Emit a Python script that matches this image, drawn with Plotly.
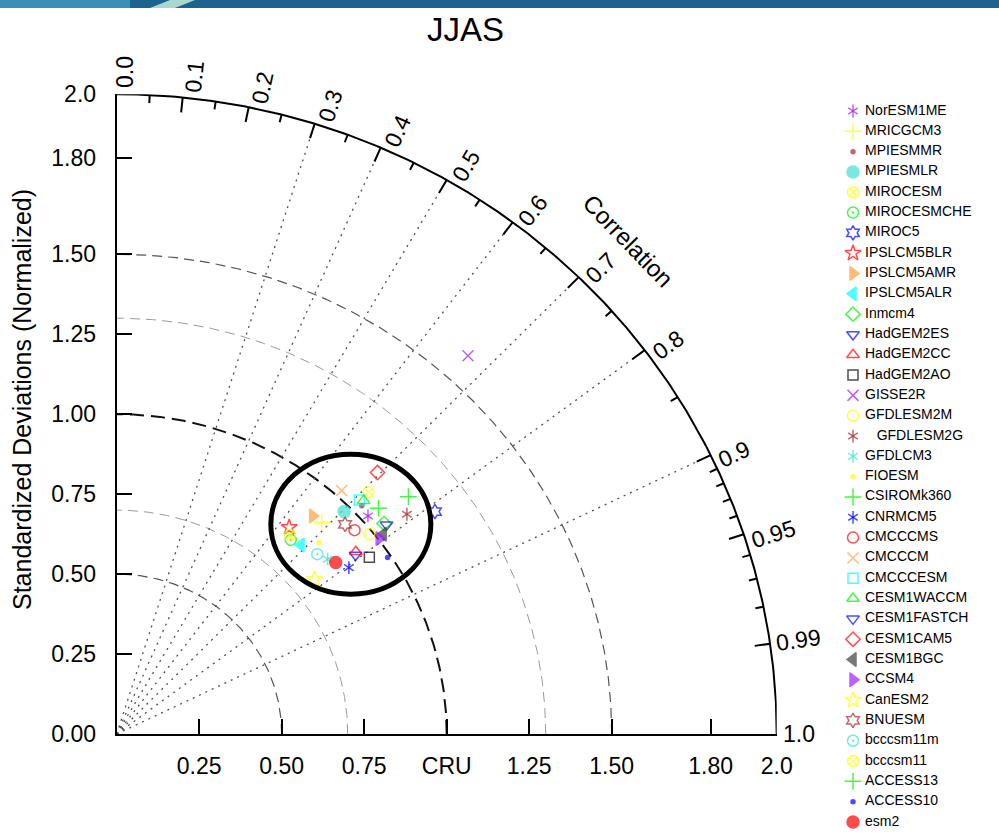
import numpy as np
import plotly.graph_objects as go

# ---------------- data ----------------
models = ["NorESM1ME", "MRICGCM3", "MPIESMMR", "MPIESMLR", "MIROCESM", "MIROCESMCHE",
          "MIROC5", "IPSLCM5BLR", "IPSLCM5AMR", "IPSLCM5ALR", "Inmcm4", "HadGEM2ES",
          "HadGEM2CC", "HadGEM2AO", "GISSE2R", "GFDLESM2M", "\u00a0\u00a0\u00a0GFDLESM2G", "GFDLCM3",
          "FIOESM", "CSIROMk360", "CNRMCM5", "CMCCCMS", "CMCCCM", "CMCCCESM",
          "CESM1WACCM", "CESM1FASTCH", "CESM1CAM5", "CESM1BGC", "CCSM4", "CanESM2",
          "BNUESM", "bcccsm11m", "bcccsm11", "ACCESS13", "ACCESS10", "esm2"]

std_dev = [1.022, 0.908, 1.030, 0.979, 1.074, 0.804,
           1.189, 0.831, 0.904, 0.813, 1.044, 0.915,
           0.922, 0.944, 1.591, 0.988, 1.116, 0.841,
           0.857, 1.154, 0.875, 0.962, 1.022, 1.037,
           1.045, 1.047, 1.137, 1.021, 1.003, 0.770,
           0.953, 0.828, 0.814, 1.062, 0.989, 0.853]

correlation = [0.745, 0.684, 0.721, 0.704, 0.710, 0.656,
               0.811, 0.629, 0.657, 0.687, 0.776, 0.791,
               0.786, 0.811, 0.669, 0.775, 0.788, 0.760,
               0.716, 0.766, 0.804, 0.749, 0.667, 0.709,
               0.716, 0.781, 0.695, 0.791, 0.793, 0.778,
               0.726, 0.734, 0.645, 0.747, 0.830, 0.778]

x_tick_vals = [0.25, 0.5, 0.75, 1.0, 1.25, 1.5, 1.8, 2.0]
x_tick_text = ["0.25", "0.50", "0.75", "CRU", "1.25", "1.50", "1.80", "2.0"]
y_tick_vals = [0.0, 0.25, 0.5, 0.75, 1.0, 1.25, 1.5, 1.8, 2.0]
y_tick_text = ["0.00", "0.25", "0.50", "0.75", "1.00", "1.25", "1.50", "1.80", "2.0"]
corr_label_vals = [0.0, 0.1, 0.2, 0.3, 0.4, 0.5, 0.6, 0.7, 0.8, 0.9, 0.95, 0.99, 1.0]
corr_label_text = ["0.0", "0.1", "0.2", "0.3", "0.4", "0.5", "0.6", "0.7", "0.8", "0.9", "0.95", "0.99", "1.0"]
corr_minor_vals = [0.05, 0.15, 0.25, 0.35, 0.45, 0.55, 0.65, 0.75, 0.85,
                   0.91, 0.92, 0.93, 0.94, 0.96, 0.97, 0.98]
ray_vals = [0.3, 0.4, 0.5, 0.6, 0.7, 0.8, 0.9]
arc_radii = [0.5, 0.7, 1.0, 1.3, 1.5]

# ---------------- styles ----------------
PURPLE, YELLOW, BROWN, TURQ = "#a020f0", "#ffff00", "#a52a2a", "#40e0d0"
GREEN, BLUE, RED, ORANGE, CYAN = "#00ee00", "#0000ff", "#ff0000", "#ffa040", "#00ffff"
symbols = ["ast", "cross-thin-open", "circle", "circle", "circle-x-open", "circle-open-dot",
           "hexagram-open", "star-open", "triangle-right", "triangle-left", "diamond-open", "triangle-down-open",
           "triangle-up-open", "square-open", "x-thin-open", "circle-open", "ast", "ast",
           "circle", "cross-thin-open", "ast", "circle-open", "x-thin-open", "square-open",
           "triangle-up-open", "triangle-down-open", "diamond-open", "triangle-left", "triangle-right", "star-open",
           "hexagram-open", "circle-open-dot", "circle-x-open", "cross-thin-open", "circle", "circle"]
colors = [PURPLE, YELLOW, BROWN, TURQ, YELLOW, GREEN,
          BLUE, RED, ORANGE, CYAN, GREEN, BLUE,
          RED, "#000000", PURPLE, YELLOW, BROWN, TURQ,
          YELLOW, GREEN, BLUE, RED, ORANGE, CYAN,
          GREEN, BLUE, RED, "#404040", PURPLE, YELLOW,
          BROWN, TURQ, YELLOW, GREEN, BLUE, RED]
sizes = [8, 12, 4, 12, 11, 11,
         11, 12, 12, 12, 11, 11,
         11, 10, 11, 11, 8, 8,
         4, 12, 8, 11, 11, 10,
         11, 11, 11, 12, 12, 12,
         11, 11, 11, 12, 4, 12]

FONT = "Liberation Sans, Arial, Helvetica, sans-serif"

# ---------------- geometry of the plot area (pixels) ----------------
W, H = 999, 839
PX0, PX1 = 116.7, 776.7      # pixel of std 0 and 2 along x
PY0, PY1 = 734.0, 94.3       # pixel of std 0 and 2 along y
SX = (PX1 - PX0) / 2.0
SY = (PY0 - PY1) / 2.0
RMAX = 2.0

fig = go.Figure()

th = np.linspace(0, np.pi / 2, 300)
arc_style = {0.5: ("#555555", 1.2, "10px,6px"), 0.7: ("#9a9a9a", 1.0, "10px,6px"),
             1.0: ("#111111", 2.0, "14px,7px"), 1.3: ("#9a9a9a", 1.0, "10px,6px"),
             1.5: ("#555555", 1.2, "10px,6px")}
for r in arc_radii:
    col, w, dash = arc_style[r]
    fig.add_trace(go.Scatter(x=r * np.cos(th), y=r * np.sin(th), mode="lines",
                             line=dict(color=col, width=w, dash=dash),
                             hoverinfo="skip", showlegend=False, cliponaxis=False))

rx, ry = [], []
for c in ray_vals:
    s = np.sqrt(1 - c * c)
    rx += [0, RMAX * c, None]
    ry += [0, RMAX * s, None]
fig.add_trace(go.Scatter(x=rx, y=ry, mode="lines", line=dict(color="#505050", width=1.3, dash="2px,5px"),
                         hoverinfo="skip", showlegend=False, cliponaxis=False))

fig.add_trace(go.Scatter(x=RMAX * np.cos(th), y=RMAX * np.sin(th), mode="lines",
                         line=dict(color="black", width=2), hoverinfo="skip",
                         showlegend=False, cliponaxis=False))

tx, ty = [], []
for vals, ln in ((corr_label_vals[1:-1], 0.047), (corr_minor_vals, 0.025)):
    for c in vals:
        s = np.sqrt(1 - c * c)
        tx += [RMAX * c, (RMAX - ln) * c, None]
        ty += [RMAX * s, (RMAX - ln) * s, None]
fig.add_trace(go.Scatter(x=tx, y=ty, mode="lines", line=dict(color="black", width=2),
                         hoverinfo="skip", showlegend=False, cliponaxis=False))

std_a = np.array(std_dev)
cor_a = np.array(correlation)
px_ = std_a * cor_a
py_ = std_a * np.sqrt(1 - cor_a ** 2)
sym_main = ["y-up-open" if s == "ast" else s for s in symbols]
fig.add_trace(go.Scatter(x=px_, y=py_, mode="markers",
                         marker=dict(symbol=sym_main, color=colors, size=sizes,
                                     line=dict(color=colors, width=1.5)),
                         text=models, hoverinfo="text", showlegend=False, cliponaxis=False))
ast_idx = [i for i, s in enumerate(symbols) if s == "ast"]
fig.add_trace(go.Scatter(x=px_[ast_idx], y=py_[ast_idx], mode="markers",
                         marker=dict(symbol="y-down-open", color=[colors[i] for i in ast_idx],
                                     size=[sizes[i] for i in ast_idx],
                                     line=dict(color=[colors[i] for i in ast_idx], width=1.5)),
                         hoverinfo="skip", showlegend=False, cliponaxis=False))

# ---------------- legend (manual, on a full-page overlay axis) ----------------
n = len(models)
row_y = [111 + i * (822 - 111) / (n - 1) for i in range(n)]
fig.add_trace(go.Scatter(x=[853] * n, y=row_y, mode="markers", xaxis="x2", yaxis="y2",
                         marker=dict(symbol=sym_main, color=colors, size=sizes,
                                     line=dict(color=colors, width=1.5)),
                         hoverinfo="skip", showlegend=False, cliponaxis=False))
fig.add_trace(go.Scatter(x=[853] * len(ast_idx), y=[row_y[i] for i in ast_idx], mode="markers",
                         xaxis="x2", yaxis="y2",
                         marker=dict(symbol="y-down-open", color=[colors[i] for i in ast_idx],
                                     size=[sizes[i] for i in ast_idx],
                                     line=dict(color=[colors[i] for i in ast_idx], width=1.5)),
                         hoverinfo="skip", showlegend=False, cliponaxis=False))
fig.add_trace(go.Scatter(x=[865] * n, y=row_y, mode="text", xaxis="x2", yaxis="y2",
                         text=models, textposition="middle right",
                         textfont=dict(family=FONT, size=14, color="black"),
                         hoverinfo="skip", showlegend=False, cliponaxis=False))

# ---------------- annotations ----------------
ann = []
for c, lab in zip(corr_label_vals, corr_label_text):
    s = np.sqrt(1 - c * c)
    ang = np.arctan2(SY * s, SX * c)
    ux, uy = np.cos(ang), np.sin(ang)
    L = 23 * (0.556 * (len(lab) - 1) + 0.278)
    gap = 6.0
    p = 9.0 if c < 0.97 else 0.0
    d = gap + L / 2
    ann.append(dict(x=RMAX * c, y=RMAX * s, xref="x", yref="y", text=lab, showarrow=False,
                    xanchor="center", yanchor="middle", textangle=-np.degrees(ang),
                    xshift=d * ux + p * uy, yshift=d * uy - p * ux,
                    font=dict(family=FONT, size=23, color="black")))
ann.append(dict(x=628 / W, y=1 - 240 / H, xref="paper", yref="paper", text="Correlation",
                showarrow=False, textangle=46, xanchor="center", yanchor="middle",
                font=dict(family=FONT, size=24, color="black")))
ann.append(dict(x=465 / W, y=1 - 30 / H, xref="paper", yref="paper", text="JJAS",
                showarrow=False, xanchor="center", yanchor="middle",
                font=dict(family=FONT, size=33, color="black")))
ann.append(dict(x=22 / W, y=1 - 400 / H, xref="paper", yref="paper",
                text="Standardized Deviations (Normalized)", showarrow=False, textangle=-90,
                xanchor="center", yanchor="middle",
                font=dict(family=FONT, size=25, color="black")))

shapes = [
    dict(type="circle", xref="x", yref="y", x0=0.467, x1=0.952, y0=0.437, y1=0.875,
         line=dict(color="black", width=5), layer="above"),
    dict(type="rect", xref="paper", yref="paper", x0=0, x1=1, y0=1 - 8 / H, y1=1,
         fillcolor="#1d6390", line=dict(width=0), layer="above"),
    dict(type="rect", xref="paper", yref="paper", x0=0, x1=130 / W, y0=1 - 8 / H, y1=1,
         fillcolor="#3a8fb6", line=dict(width=0), layer="above"),
    dict(type="path", xref="paper", yref="paper",
         path=f"M {150/W},{1-8/H} L {175/W},{1-8/H} L {195/W},1 L {170/W},1 Z",
         fillcolor="#a8d8d0", line=dict(width=0), layer="above"),
]

axis_common = dict(range=[0, 2], showgrid=False, zeroline=False, showline=True,
                   linecolor="black", linewidth=2, ticks="inside", ticklen=15, tickwidth=2,
                   tickcolor="black", tickfont=dict(family=FONT, size=23, color="black"),
                   fixedrange=True, automargin=False)

fig.update_layout(
    width=W, height=H, margin=dict(l=0, r=0, t=0, b=0, pad=0, autoexpand=False),
    paper_bgcolor="white", plot_bgcolor="rgba(0,0,0,0)",
    xaxis=dict(domain=[PX0 / W, PX1 / W], tickvals=x_tick_vals, ticktext=x_tick_text,
               ticklabelstandoff=10, **axis_common),
    yaxis=dict(domain=[1 - PY0 / H, 1 - PY1 / H], tickvals=y_tick_vals, ticktext=y_tick_text,
               ticklabelstandoff=14, **axis_common),
    xaxis2=dict(domain=[0, 1], range=[0, W], visible=False, anchor="y2", fixedrange=True, automargin=False),
    yaxis2=dict(domain=[0, 1], range=[H, 0], visible=False, anchor="x2", fixedrange=True, automargin=False),
    annotations=ann, shapes=shapes, showlegend=False,
)

fig.write_html("out.html", post_script="document.body.style.margin='0';document.body.style.overflow='hidden';")
